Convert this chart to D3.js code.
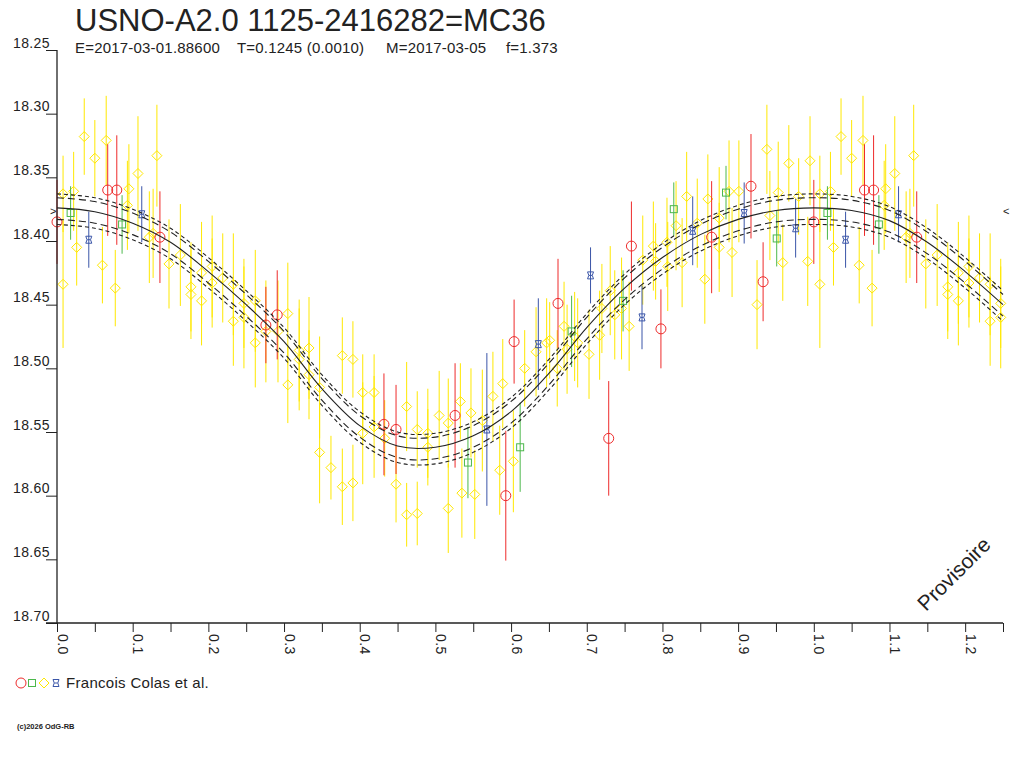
<!DOCTYPE html>
<html>
<head>
<meta charset="utf-8">
<script src="https://cdn.jsdelivr.net/npm/d3@7"></script>
<style>
  body { margin: 0; background: #fff; }
  svg { display: block; font-family: "Liberation Sans", Arial, sans-serif; }
</style>
</head>
<body>
<svg id="chart" width="1024" height="768"></svg>
<script>
// ===== DATA (phase, magnitude, error) =====
const titleText = "USNO-A2.0 1125-2416282=MC36";
const subtitleParts = ["E=2017-03-01.88600", "T=0.1245 (0.0010)", "M=2017-03-05", "f=1.373"];
const legendLabel = "Francois Colas et al.";

const xTicks = [0, 0.05, 0.1, 0.15, 0.2, 0.25, 0.3, 0.35, 0.4, 0.45, 0.5, 0.55, 0.6,
                0.65, 0.7, 0.75, 0.8, 0.85, 0.9, 0.95, 1.0, 1.05, 1.1, 1.15, 1.2, 1.25];
const xLabels = [0, 0.1, 0.2, 0.3, 0.4, 0.5, 0.6, 0.7, 0.8, 0.9, 1.0, 1.1, 1.2];
const yTicks = [18.25, 18.30, 18.35, 18.40, 18.45, 18.50, 18.55, 18.60, 18.65, 18.70];

// fitted light curve, read every 0.05 in phase
const fitPhase = [0, 0.05, 0.1, 0.15, 0.2, 0.25, 0.3, 0.35, 0.4, 0.45, 0.5, 0.55, 0.6,
                  0.65, 0.7, 0.75, 0.8, 0.85, 0.9, 0.95, 1.0, 1.05, 1.1, 1.15, 1.2, 1.25];
const fitMag = [18.374, 18.377, 18.386, 18.401, 18.424, 18.450, 18.479, 18.516, 18.545, 18.561,
                18.562, 18.553, 18.534, 18.504, 18.468, 18.437, 18.413, 18.395, 18.383, 18.376,
                18.374, 18.376, 18.384, 18.401, 18.424, 18.450];
const upperOuter = [18.363, 18.366, 18.375, 18.390, 18.413, 18.439, 18.468, 18.505, 18.534, 18.550,
                    18.551, 18.542, 18.523, 18.493, 18.457, 18.426, 18.402, 18.384, 18.372, 18.365,
                    18.363, 18.365, 18.373, 18.390, 18.413, 18.439];
const upperInner = [18.366, 18.369, 18.378, 18.393, 18.416, 18.442, 18.471, 18.508, 18.537, 18.553,
                    18.554, 18.545, 18.526, 18.496, 18.460, 18.429, 18.405, 18.387, 18.375, 18.368,
                    18.366, 18.368, 18.376, 18.393, 18.416, 18.442];
const lowerInner = [18.383, 18.386, 18.395, 18.410, 18.433, 18.459, 18.488, 18.525, 18.554, 18.570,
                    18.571, 18.562, 18.543, 18.513, 18.477, 18.446, 18.422, 18.404, 18.392, 18.385,
                    18.383, 18.385, 18.393, 18.410, 18.433, 18.459];
const lowerOuter = [18.387, 18.390, 18.399, 18.414, 18.437, 18.463, 18.492, 18.529, 18.558, 18.574,
                    18.575, 18.566, 18.547, 18.517, 18.481, 18.450, 18.426, 18.408, 18.396, 18.389,
                    18.387, 18.389, 18.397, 18.414, 18.437, 18.463];

const redPoints = [
  [0.000, 18.385, 0.033], [0.067, 18.360, 0.036], [0.079, 18.360, 0.043], [0.136, 18.397, 0.036],
  [0.276, 18.466, 0.030], [0.291, 18.458, 0.035], [0.432, 18.544, 0.040], [0.448, 18.548, 0.035],
  [0.526, 18.537, 0.041], [0.593, 18.600, 0.051], [0.604, 18.479, 0.033], [0.662, 18.449, 0.035],
  [0.729, 18.555, 0.045], [0.759, 18.404, 0.035], [0.798, 18.469, 0.031], [0.865, 18.397, 0.044],
  [0.917, 18.357, 0.041], [0.933, 18.432, 0.031]
];
const greenPoints = [
  [0.018, 18.378, 0.021], [0.086, 18.387, 0.023], [0.543, 18.574, 0.028], [0.612, 18.562, 0.035],
  [0.680, 18.471, 0.028], [0.748, 18.447, 0.024], [0.815, 18.375, 0.021], [0.884, 18.362, 0.021],
  [0.951, 18.398, 0.022]
];
const yellowPoints = [
  [0.008, 18.363, 0.030], [0.008, 18.434, 0.050], [0.022, 18.361, 0.031], [0.026, 18.405, 0.030],
  [0.036, 18.318, 0.030], [0.050, 18.335, 0.030], [0.060, 18.419, 0.030], [0.065, 18.321, 0.035],
  [0.077, 18.437, 0.030], [0.093, 18.372, 0.035], [0.095, 18.359, 0.035], [0.107, 18.347, 0.045],
  [0.122, 18.397, 0.036], [0.127, 18.394, 0.035], [0.132, 18.333, 0.040], [0.148, 18.418, 0.035],
  [0.163, 18.411, 0.040], [0.177, 18.436, 0.035], [0.177, 18.442, 0.035], [0.191, 18.425, 0.040],
  [0.191, 18.447, 0.035], [0.205, 18.420, 0.040], [0.205, 18.433, 0.035], [0.219, 18.429, 0.035],
  [0.233, 18.434, 0.040], [0.233, 18.463, 0.035], [0.247, 18.449, 0.035], [0.247, 18.460, 0.040],
  [0.262, 18.447, 0.040], [0.262, 18.480, 0.035], [0.276, 18.471, 0.040], [0.292, 18.471, 0.040],
  [0.305, 18.457, 0.040], [0.305, 18.513, 0.030], [0.320, 18.486, 0.040], [0.320, 18.493, 0.040],
  [0.333, 18.484, 0.040], [0.333, 18.505, 0.035], [0.347, 18.515, 0.040], [0.347, 18.566, 0.040],
  [0.362, 18.578, 0.025], [0.377, 18.490, 0.030], [0.377, 18.593, 0.030], [0.391, 18.493, 0.030],
  [0.391, 18.590, 0.030], [0.404, 18.519, 0.030], [0.404, 18.551, 0.040], [0.419, 18.519, 0.030],
  [0.419, 18.546, 0.040], [0.433, 18.555, 0.030], [0.448, 18.591, 0.030], [0.462, 18.530, 0.035],
  [0.462, 18.615, 0.025], [0.476, 18.548, 0.030], [0.476, 18.614, 0.025], [0.490, 18.551, 0.035],
  [0.490, 18.562, 0.030], [0.505, 18.537, 0.035], [0.517, 18.543, 0.035], [0.517, 18.610, 0.035],
  [0.533, 18.526, 0.030], [0.535, 18.598, 0.035], [0.547, 18.535, 0.035], [0.552, 18.599, 0.035],
  [0.562, 18.541, 0.040], [0.576, 18.522, 0.035], [0.585, 18.580, 0.035], [0.589, 18.512, 0.035],
  [0.603, 18.573, 0.040], [0.618, 18.500, 0.030], [0.633, 18.487, 0.035], [0.647, 18.480, 0.035],
  [0.651, 18.478, 0.030], [0.661, 18.500, 0.030], [0.670, 18.467, 0.035], [0.674, 18.485, 0.035],
  [0.684, 18.475, 0.035], [0.688, 18.480, 0.035], [0.703, 18.489, 0.035], [0.717, 18.474, 0.035],
  [0.720, 18.453, 0.035], [0.731, 18.439, 0.035], [0.737, 18.458, 0.035], [0.746, 18.453, 0.040],
  [0.756, 18.467, 0.035], [0.774, 18.415, 0.035], [0.788, 18.404, 0.035], [0.791, 18.416, 0.030],
  [0.806, 18.401, 0.035], [0.807, 18.420, 0.035], [0.818, 18.388, 0.035], [0.826, 18.417, 0.035],
  [0.832, 18.365, 0.035], [0.846, 18.386, 0.035], [0.856, 18.430, 0.035], [0.860, 18.367, 0.035],
  [0.875, 18.382, 0.040], [0.875, 18.405, 0.035], [0.888, 18.361, 0.040], [0.892, 18.409, 0.035],
  [0.901, 18.361, 0.040], [0.925, 18.450, 0.035], [0.938, 18.328, 0.035], [0.942, 18.380, 0.035],
  [0.953, 18.362, 0.040], [0.959, 18.417, 0.030], [0.967, 18.339, 0.030], [0.980, 18.365, 0.030],
  [0.992, 18.416, 0.035], [0.995, 18.337, 0.035]
];
const bluePoints = [
  [0.042, 18.399, 0.022], [0.112, 18.379, 0.022], [0.568, 18.548, 0.060], [0.636, 18.481, 0.036],
  [0.705, 18.427, 0.022], [0.773, 18.460, 0.025], [0.840, 18.392, 0.027], [0.908, 18.378, 0.024],
  [0.976, 18.390, 0.023]
];

// ===== SETUP =====
const svg = d3.select("#chart");
const x = d3.scaleLinear().domain([0, 1.25]).range([57, 1003]);
const y = d3.scaleLinear().domain([18.25, 18.70]).range([50, 623]);
const ink = "#222";

// phase diagram repeats the first quarter after 1.0
function wrapped(points) {
  return points.concat(points.filter(p => p[0] < 0.25).map(p => [p[0] + 1, p[1], p[2]]));
}

const symbols = {
  circle: g => g.append("circle").attr("r", 5),
  square: g => g.append("rect").attr("x", -3.5).attr("y", -3.5).attr("width", 7).attr("height", 7),
  diamond: g => g.append("path").attr("d", "M0,-5L5,0L0,5L-5,0Z"),
  hourglass: g => g.append("path")
    .attr("d", "M-3,-3.5L3,-3.5M-3,3.5L3,3.5M-3,-3.5Q-0.5,0 -3,3.5M3,-3.5Q0.5,0 3,3.5M-1.5,0L1.5,0")
};

function drawSeries(points, color, shape) {
  const g = svg.append("g");
  const pts = wrapped(points);
  g.selectAll("line.err")
    .data(pts)
    .enter()
    .append("line")
    .attr("x1", d => x(d[0])).attr("x2", d => x(d[0]))
    .attr("y1", d => y(d[1] - d[2])).attr("y2", d => y(d[1] + d[2]))
    .attr("stroke", color)
    .attr("stroke-width", 1);
  g.selectAll("g.pt")
    .data(pts)
    .enter()
    .append("g")
    .attr("transform", d => `translate(${x(d[0])},${y(d[1])})`)
    .each(function() { symbols[shape](d3.select(this)); })
    .selectAll("*")
    .attr("fill", "none")
    .attr("stroke", color)
    .attr("stroke-width", 1);
}

drawSeries(yellowPoints, "#ffe800", "diamond");
drawSeries(greenPoints, "#4cb84c", "square");
drawSeries(bluePoints, "#3a55a8", "hourglass");
drawSeries(redPoints, "#ee2b2b", "circle");

// ===== FIT CURVES =====
const line = d3.line()
  .x(d => x(d[0]))
  .y(d => y(d[1]))
  .curve(d3.curveCatmullRom.alpha(0.5));

const curves = [
  { mags: upperOuter, dash: "4,3" },
  { mags: upperInner, dash: "7,4" },
  { mags: lowerInner, dash: "7,4" },
  { mags: lowerOuter, dash: "4,3" },
  { mags: fitMag, dash: null }
];
curves.forEach(c => {
  svg.append("path")
    .datum(fitPhase.map((p, i) => [p, c.mags[i]]))
    .attr("d", line)
    .attr("fill", "none")
    .attr("stroke", ink)
    .attr("stroke-width", 1.1)
    .attr("stroke-dasharray", c.dash);
});

// ===== AXES =====
const yAxis = svg.append("g")
  .attr("transform", "translate(57,0)")
  .call(d3.axisLeft(y).tickValues(yTicks).tickSize(11).tickSizeOuter(0).tickFormat(d3.format(".2f")));
yAxis.select(".domain").remove();
yAxis.selectAll(".tick line").attr("stroke", ink);
yAxis.selectAll(".tick text")
  .attr("x", -7).attr("dy", "-0.2em")
  .attr("fill", ink)
  .style("font-family", "'Liberation Sans', Arial, sans-serif")
  .style("font-size", "14px")
  .style("letter-spacing", "0.4px");

const xAxis = svg.append("g")
  .attr("transform", "translate(0,623)")
  .call(d3.axisBottom(x).tickValues(xTicks).tickSize(9).tickSizeOuter(0)
    .tickFormat(d => xLabels.some(v => Math.abs(v - d) < 1e-9) ? d3.format(".1f")(d) : ""));
xAxis.select(".domain").remove();
xAxis.selectAll(".tick line").attr("stroke", ink);
xAxis.selectAll(".tick text")
  .attr("x", 0).attr("y", 0).attr("dy", "0")
  .attr("transform", "translate(0,11) rotate(90)")
  .attr("text-anchor", "start")
  .attr("fill", ink)
  .style("font-family", "'Liberation Sans', Arial, sans-serif")
  .style("font-size", "14px")
  .style("letter-spacing", "0.4px");

svg.append("line").attr("x1", 57).attr("x2", 57).attr("y1", 50).attr("y2", 623)
  .attr("stroke", ink).attr("stroke-width", 1.3);
svg.append("line").attr("x1", 46).attr("x2", 1003).attr("y1", 623).attr("y2", 623)
  .attr("stroke", ink).attr("stroke-width", 1.3);

// phase markers at the curve ends
svg.append("text").attr("x", 50).attr("y", y(18.377) + 3).text(">")
  .attr("font-size", 11).attr("fill", ink);
svg.append("text").attr("x", 1003).attr("y", y(18.377) + 3).text("<")
  .attr("font-size", 11).attr("fill", ink);

// ===== TITLES =====
svg.append("text").attr("x", 75).attr("y", 31).text(titleText)
  .attr("font-size", 31).attr("fill", ink);
const subX = [75, 237, 386, 506];
subtitleParts.forEach((t, i) => {
  svg.append("text").attr("x", subX[i]).attr("y", 53).text(t)
    .attr("font-size", 15).attr("letter-spacing", 0.2).attr("fill", ink);
});

svg.append("text")
  .attr("transform", "translate(926,612) rotate(-45)")
  .text("Provisoire")
  .attr("font-size", 21)
  .attr("fill", ink);

// ===== LEGEND =====
const legend = svg.append("g").attr("transform", "translate(0,683)");
[["circle", "#ee2b2b", 21], ["square", "#4cb84c", 32], ["diamond", "#ffe800", 44], ["hourglass", "#3a55a8", 56]]
  .forEach(([shape, color, lx]) => {
    const g = legend.append("g").attr("transform", `translate(${lx},0)`);
    symbols[shape](g);
    g.selectAll("*").attr("fill", "none").attr("stroke", color).attr("stroke-width", 1);
  });
legend.append("text").attr("x", 66).attr("y", 5).text(legendLabel)
  .attr("font-size", 15).attr("letter-spacing", 0.3).attr("fill", ink);

svg.append("text").attr("x", 17).attr("y", 729).text("(c)2026 OdG-RB")
  .attr("font-size", 7.5).attr("font-weight", "bold").attr("fill", ink);
</script>
</body>
</html>
